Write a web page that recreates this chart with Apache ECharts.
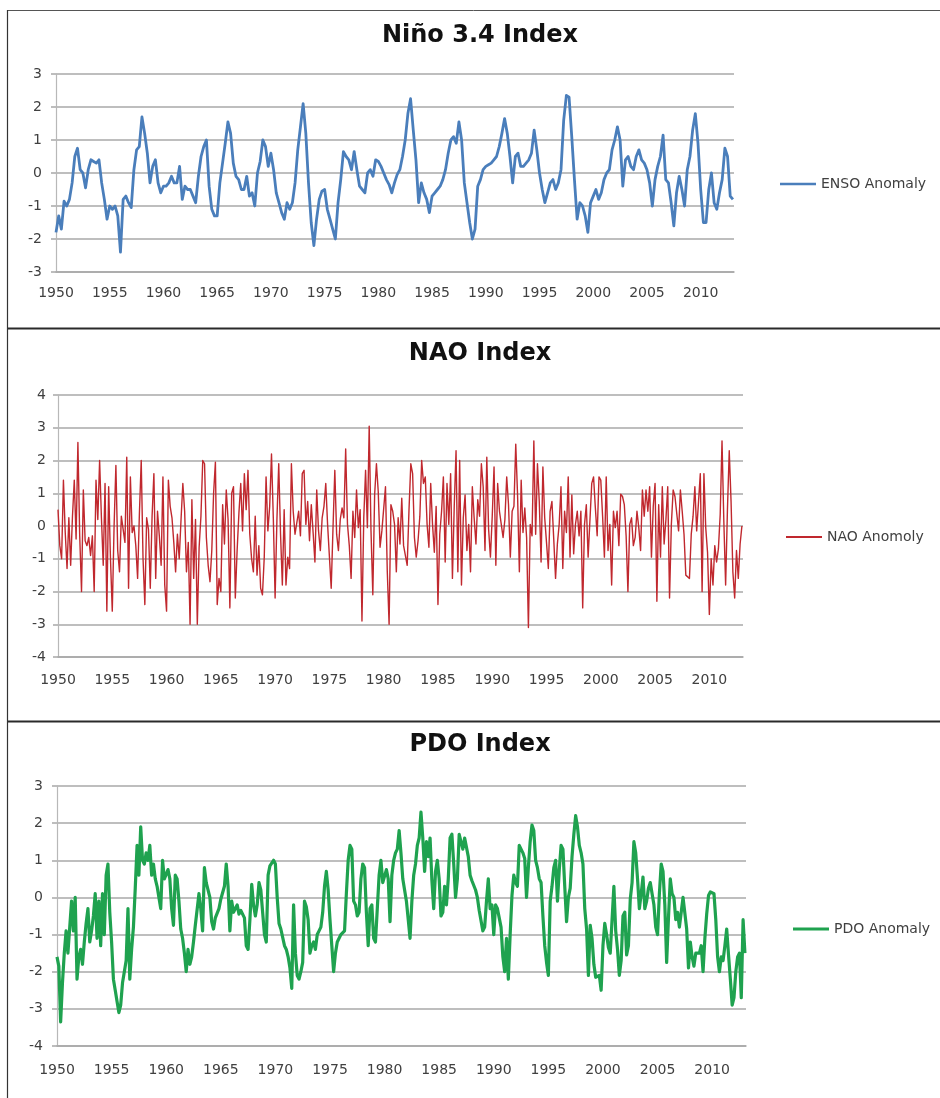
<!DOCTYPE html>
<html>
<head>
<meta charset="utf-8">
<script src="https://cdn.jsdelivr.net/npm/echarts@6/dist/echarts.min.js"></script>
<style>
html,body{margin:0;padding:0;background:#ffffff;}
#chart{width:940px;height:1098px;}
</style>
</head>
<body>
<div id="chart"></div>
<script>
// ---------- data ----------
const START_YEAR = 1950;
const yearLabels = [1950, 1955, 1960, 1965, 1970, 1975, 1980, 1985, 1990, 1995, 2000, 2005, 2010];

const titles = ['Niño 3.4 Index', 'NAO Index', 'PDO Index'];
const seriesNames = ['ENSO Anomaly', 'NAO Anomoly', 'PDO Anomaly'];

// Niño 3.4 anomaly, 4 samples per year from 1950.0
const ensoPerYear = 4;
const ensoValues = [
  -1.8, -1.3, -1.7, -0.85,
  -1.0, -0.8, -0.3, 0.5,
  0.75, 0.1, 0.0, -0.45,
  0.1, 0.4, 0.35, 0.3,
  0.4, -0.3, -0.8, -1.4,
  -1.0, -1.1, -1.0, -1.3,
  -2.4, -0.8, -0.7, -0.9,
  -1.05, 0.1, 0.7, 0.8,
  1.7, 1.2, 0.6, -0.3,
  0.2, 0.4, -0.3, -0.6,
  -0.4, -0.4, -0.3, -0.1,
  -0.3, -0.3, 0.2, -0.8,
  -0.4, -0.5, -0.5, -0.7,
  -0.9, -0.1, 0.5, 0.8,
  1.0, -0.4, -1.1, -1.3,
  -1.3, -0.3, 0.3, 0.9,
  1.55, 1.2, 0.3, -0.1,
  -0.2, -0.5, -0.5, -0.1,
  -0.7, -0.6, -1.0, 0.0,
  0.35, 1.0, 0.8, 0.2,
  0.6, 0.1, -0.6, -0.9,
  -1.2, -1.4, -0.9, -1.1,
  -0.9, -0.3, 0.7, 1.4,
  2.1, 1.2, -0.3, -1.5,
  -2.2, -1.4, -0.8, -0.55,
  -0.5, -1.1, -1.4, -1.7,
  -2.0, -0.9, -0.2, 0.65,
  0.5, 0.4, 0.1, 0.65,
  0.1, -0.4, -0.5, -0.6,
  0.0, 0.1, -0.1, 0.4,
  0.35, 0.2, 0.0, -0.2,
  -0.35, -0.6, -0.3, -0.05,
  0.1, 0.5, 1.0, 1.8,
  2.25, 1.3, 0.4, -0.9,
  -0.3, -0.6, -0.8, -1.2,
  -0.7, -0.6, -0.5, -0.4,
  -0.2, 0.1, 0.6, 1.0,
  1.1, 0.9, 1.55, 1.0,
  -0.3, -0.9, -1.5, -2.0,
  -1.7, -0.4, -0.2, 0.1,
  0.2, 0.25, 0.3, 0.4,
  0.5, 0.8, 1.2, 1.65,
  1.2, 0.5, -0.3, 0.5,
  0.6, 0.2, 0.2, 0.3,
  0.4, 0.6, 1.3, 0.7,
  0.0, -0.5, -0.9, -0.6,
  -0.3, -0.2, -0.5, -0.3,
  0.1, 1.6, 2.35, 2.3,
  1.1, -0.2, -1.4, -0.9,
  -1.0, -1.3, -1.8, -0.9,
  -0.7, -0.5, -0.8, -0.6,
  -0.2, 0.0, 0.1, 0.7,
  1.0, 1.4, 1.0, -0.4,
  0.4, 0.5, 0.2, 0.1,
  0.5, 0.7, 0.4, 0.3,
  0.1, -0.3, -1.0, -0.2,
  0.2, 0.5, 1.15, -0.2,
  -0.3, -0.9, -1.6, -0.6,
  -0.1, -0.5, -1.0, 0.1,
  0.5, 1.3, 1.8, 0.9,
  -0.5, -1.5, -1.5, -0.5,
  0.0, -0.9, -1.1, -0.6,
  -0.2, 0.75, 0.5, -0.7,
  -0.8
];

// NAO anomaly, 6 samples per year from 1950.0
const naoPerYear = 6;
const naoValues = [
  0.5, -0.6, -1.0, 1.4, -0.2, -1.3,
  0.25, -1.2, 0.3, 1.4, -0.4, 2.55,
  -0.3, -2.0, 1.1, -0.45, -0.6, -0.35,
  -0.9, -0.3, -2.0, 1.4, 0.2, 2.0,
  0.25, -1.2, 1.3, -2.6, 1.2, -1.0,
  -2.6, 0.0, 1.85, -0.75, -1.4, 0.3,
  0.25, -0.5, 2.1, -1.9, 1.5, -0.2,
  0.0, -0.6, -1.6, 0.4, 2.0, -1.0,
  -2.4, 0.25, -0.1, -1.9, 0.3, 1.6,
  -1.6, 0.45, -0.3, -1.2, 1.5, -1.8,
  -2.6, 1.4, 0.6, 0.25, -0.5, -1.4,
  -0.25, -1.0, 0.2, 1.3, 0.45, -1.4,
  -0.5, -3.0, 0.8, -1.6, 0.2, -3.0,
  -0.65, 0.3, 2.0, 1.9, -0.35, -1.2,
  -1.7, -0.75, 1.0, 1.95, -2.4, -1.6,
  -2.0, 0.65, -0.55, 1.1, 0.2, -2.5,
  1.0, 1.2, -2.2, -0.75, 0.4, 1.3,
  -0.15, 1.6, 0.5, 1.7, -0.25, -1.0,
  -1.4, 0.3, -1.5, -0.6, -1.9, -2.1,
  -0.95, 1.5, -0.15, 0.6, 2.2, 0.25,
  -2.2, 0.2, 1.9, -0.25, -1.8, 0.5,
  -1.8, -0.95, -1.3, 1.9, 0.45, -0.25,
  -0.25, 0.45, -0.3, 1.6, 1.7, 0.05,
  0.75, -0.45, 0.65, -0.2, -1.1, 1.1,
  -0.15, -0.75, 0.25, 0.6, 1.3, 0.05,
  0.05, -1.9, -0.05, 1.7, -0.25, -0.75,
  0.2, 0.55, 0.25, 2.35, 0.05, -0.6,
  -1.6, 0.45, -0.35, 1.1, -0.05, 0.5,
  -2.9, 0.25, 1.7, -0.05, 3.05, -0.15,
  -2.1, 0.95, 1.9, 1.05, -0.65, -0.15,
  -0.1, 1.2, -1.4, -3.0, 0.65, 0.45,
  0.05, -1.4, 0.25, -0.55, 0.85, -0.6,
  -0.65, -1.2, 0.5, 1.9, 1.6, -0.35,
  -0.95, -0.45, 0.3, 2.0, 1.3, 1.5,
  0.05, -0.65, 1.3, 0.05, -0.8, 0.6,
  -2.4, -0.25, 0.45, 1.5, -1.1, 1.3,
  0.05, 1.6, -1.6, 0.6, 2.3, -1.4,
  2.0, -1.8, 0.25, 0.95, -0.75, 0.05,
  -1.4, 1.2, 0.25, -0.55, 0.8, 0.3,
  1.9, 1.2, -0.75, 2.1, -0.1, -0.95,
  0.3, 1.8, -1.2, 1.3, 0.45, 0.05,
  -0.35, 0.2, 1.5, 0.65, -0.95, 0.45,
  0.6, 2.5, 0.95, -1.4, 1.4, -0.2,
  0.55, -0.35, -3.1, 0.05, -0.3, 2.6,
  -0.25, 1.9, 0.75, -1.1, 1.8, 0.25,
  -0.5, -1.3, 0.45, 0.75, -0.4, -1.6,
  -0.55, 0.05, 1.2, -1.3, 0.45, -0.2,
  1.5, -0.95, 0.95, -0.85, 0.05, 0.45,
  -0.3, 0.45, -2.5, 0.05, 0.65, -0.95,
  -0.95, 1.3, 1.5, 0.55, -0.3, 1.5,
  1.4, 0.3, -0.95, 1.5, -0.75, 0.05,
  -1.8, 0.45, -0.05, 0.45, -0.6, 0.97,
  0.9, 0.65, -0.3, -2.0, 0.05, 0.25,
  -0.6, -0.35, 0.45, -0.05, -0.75, 1.1,
  0.3, 1.1, 0.45, 1.2, -0.95, 0.6,
  1.3, -2.3, 0.65, -0.95, 1.2, -0.55,
  0.2, 1.2, -2.2, 0.05, 1.1, 0.9,
  0.9, -0.15, 1.1, 0.45, -0.25, -1.5,
  -1.5, -1.6, -0.25, 0.3, 1.2, -0.15,
  -0.15, 1.6, -2.0, 1.6, -0.05, -0.8,
  -2.7, -1.0, -1.8, -0.6, -1.1, -0.7,
  0.35, 2.6, 0.15, -1.8, 0.5, 2.3,
  0.75, -1.4, -2.2, -0.75, -1.6, -0.55,
  0.0
];

// PDO anomaly, 6 samples per year from 1950.0
const pdoPerYear = 6;
const pdoValues = [
  -1.6, -1.85, -3.35, -2.3, -1.5, -0.9,
  -1.5, -0.8, -0.1, -0.9, 0.0, -2.2,
  -1.6, -1.4, -1.8, -1.2, -0.7, -0.3,
  -1.2, -0.9, -0.5, 0.1, -1.1, -0.1,
  -1.3, 0.1, -1.0, 0.6, 0.9, -0.4,
  -1.2, -2.2, -2.5, -2.8, -3.1, -2.9,
  -2.3, -2.0, -1.7, -0.3, -2.2, -1.4,
  -0.8, 0.25, 1.4, 0.6, 1.9, 1.0,
  0.9, 1.2, 1.0, 1.4, 0.6, 0.9,
  0.5, 0.3, 0.0, -0.3, 1.0, 0.5,
  0.5, 0.75, 0.5, -0.3, -0.75, 0.6,
  0.5, -0.1, -0.85, -1.1, -1.5, -2.0,
  -1.4, -1.8, -1.6, -1.2, -0.75, -0.8,
  0.1, -0.3, -0.9, 0.8, 0.4, 0.4,
  0.0, -0.65, -0.85, -0.55, -0.6, -0.3,
  -0.05, 0.0, 0.3, 0.9, 0.3, -0.9,
  -0.1, -0.4, -0.3, -0.2, -0.45, -0.35,
  -0.3, -0.55, -1.3, -1.4, -0.6, 0.35,
  -0.2, -0.5, -0.2, 0.4, 0.2, -0.4,
  -1.0, -1.2, 0.6, 0.85, 0.9, 1.0,
  0.9, 0.0, -0.7, -0.85, -0.9, -1.3,
  -1.4, -1.6, -1.9, -2.45, -0.2, -1.5,
  -2.1, -2.2, -2.0, -1.75, -0.1, -0.25,
  -0.6, -1.5, -1.3, -1.2, -1.4, -1.0,
  -0.9, -0.8, -0.4, 0.3, 0.7, 0.2,
  -0.6, -1.3, -2.0, -1.5, -1.2, -1.2,
  -1.0, -1.0, -0.9, 0.1, 1.0, 1.4,
  1.3, -0.1, -0.2, -0.5, -0.4, 0.5,
  0.9, 0.8, -0.4, -1.3, -0.3, -0.2,
  -1.1, -1.2, -0.3, 0.6, 1.0, 0.4,
  0.4, 0.75, 0.5, -0.65, 0.6, 1.0,
  1.2, 1.3, 1.8, 1.2, 0.5, 0.5,
  -0.1, -0.6, -1.1, -0.1, 0.6, 0.9,
  1.4, 1.6, 2.3, 1.6, 0.7, 1.5,
  1.1, 1.6, 0.45, -0.3, 0.7, 1.0,
  0.5, -0.5, -0.4, 0.3, -0.2, 0.5,
  1.6, 1.7, 0.9, 0.0, 0.5, 1.7,
  1.7, 1.3, 1.6, 1.6, 1.1, 0.6,
  0.45, 0.5, 0.2, 0.0, -0.35, -0.4,
  -0.9, -0.8, -0.1, 0.5, -0.3, -0.2,
  -1.0, -0.2, -0.3, -0.3, -0.8, -1.6,
  -2.0, -1.1, -2.2, -1.0, 0.05, 0.6,
  0.4, 0.3, 1.4, 1.4, 1.2, 1.05,
  0.0, 0.8, 1.5, 1.95, 1.8, 1.0,
  0.8, 0.5, 0.4, -0.5, -1.3, -1.75,
  -2.1, -0.1, 0.3, 0.8, 1.0, -0.1,
  0.75, 1.4, 1.3, 0.3, -0.65, 0.0,
  0.25, 1.1, 1.7, 2.2, 1.9, 1.4,
  1.2, 0.9, -0.3, -0.85, -2.1, -0.75,
  -1.1, -1.8, -2.15, -2.2, -2.1, -2.5,
  -1.3, -0.7, -1.0, -1.35, -1.5, -0.6,
  0.3, -0.9, -1.4, -2.1, -1.7, -0.5,
  -0.4, -1.55, -1.3, -0.05, 0.4, 1.5,
  1.2, 0.5, -0.3, 0.1, 0.55, -0.3,
  -0.1, 0.25, 0.4, 0.1, -0.2, -0.8,
  -1.0, 0.1, 0.9, 0.7, -0.2, -1.75,
  -0.55, 0.5, 0.1, 0.0, -0.6, -0.4,
  -0.8, -0.4, 0.0, -0.05, -0.85, -1.9,
  -1.2, -1.6, -1.85, -1.5, -1.5, -1.5,
  -1.3, -2.0, -1.1, -0.45, 0.05, 0.15,
  0.2, 0.1, -0.6, -1.6, -2.0, -1.6,
  -1.7, -1.3, -0.85, -1.55, -2.2, -2.9,
  -2.7, -2.0, -1.6, -1.5, -2.7, -0.6,
  -1.5
];

// ---------- build ----------
function toPairs(values, perYear) {
  return values.map((v, i) => [START_YEAR + i / perYear, v]);
}

const FONT = 'DejaVu Sans';
const GRID_COLOR = '#a8a8a8';
const LABEL_COLOR = '#404040';

const panels = [
  { grid: { left: 56, top: 74, width: 678, height: 198 }, yMin: -3, yMax: 3, xMax: 2013.1,
    titleTop: 22, legendLeft: 780, legendTop: 177, color: '#4a7ebb', width: 2.8, iconH: 2.5,
    data: toPairs(ensoValues, ensoPerYear), xMargin: 14, yMargin: 14 },
  { grid: { left: 58, top: 395, width: 685, height: 262 }, yMin: -4, yMax: 4, xMax: 2013.1,
    titleTop: 340, legendLeft: 786, legendTop: 530, color: '#c0282e', width: 1.4, iconH: 2,
    data: toPairs(naoValues, naoPerYear), xMargin: 16, yMargin: 12 },
  { grid: { left: 57, top: 786, width: 689, height: 260 }, yMin: -4, yMax: 3, xMax: 2013.1,
    titleTop: 731, legendLeft: 793, legendTop: 922, color: '#1fa24f', width: 3.2, iconH: 3,
    data: toPairs(pdoValues, pdoPerYear), xMargin: 17, yMargin: 14 }
];

const option = {
  animation: false,
  backgroundColor: '#ffffff',
  title: panels.map((p, i) => ({
    text: titles[i], left: 480, top: p.titleTop, textAlign: 'center', padding: 0,
    textStyle: { fontFamily: FONT, fontWeight: 'bold', fontSize: 24, lineHeight: 28, color: '#111111' }
  })),
  legend: panels.map((p, i) => ({
    data: [{ name: seriesNames[i], icon: 'rect' }], left: p.legendLeft, top: p.legendTop, padding: 0,
    itemWidth: 36, itemHeight: p.iconH,
    textStyle: { fontFamily: FONT, fontSize: 14, color: LABEL_COLOR }
  })),
  grid: panels.map(p => Object.assign({ containLabel: false }, p.grid)),
  xAxis: panels.map((p, i) => ({
    type: 'value', gridIndex: i, min: START_YEAR, max: p.xMax, interval: 5,
    splitLine: { show: false },
    axisTick: { show: false },
    axisLine: { onZero: false, lineStyle: { color: GRID_COLOR, width: 1.5 } },
    axisLabel: {
      margin: p.xMargin, fontFamily: FONT, fontSize: 14, color: LABEL_COLOR,
      showMaxLabel: true,
      formatter: v => {
        const r = Math.round(v);
        return (Math.abs(v - r) < 1e-6 && yearLabels.includes(r)) ? String(r) : '';
      }
    }
  })),
  yAxis: panels.map((p, i) => ({
    type: 'value', gridIndex: i, min: p.yMin, max: p.yMax, interval: 1,
    axisLine: { show: true, lineStyle: { color: '#b8b8b8', width: 1.2 } },
    axisTick: { show: true, length: 5, lineStyle: { color: GRID_COLOR, width: 1.5 } },
    splitLine: { show: true, lineStyle: { color: GRID_COLOR, width: 1.5 } },
    axisLabel: { margin: p.yMargin, fontFamily: FONT, fontSize: 14, color: LABEL_COLOR }
  })),
  series: panels.map((p, i) => ({
    name: seriesNames[i], type: 'line', xAxisIndex: i, yAxisIndex: i,
    data: p.data, symbol: 'none', showSymbol: false, smooth: false,
    lineStyle: { color: p.color, width: p.width, join: 'round' },
    itemStyle: { color: p.color },
    emphasis: { disabled: true }
  })),
  graphic: [
    { type: 'line', shape: { x1: 7, y1: 10.5, x2: 940, y2: 10.5 }, style: { stroke: '#555555', lineWidth: 1 } },
    { type: 'line', shape: { x1: 7, y1: 328.5, x2: 940, y2: 328.5 }, style: { stroke: '#2a2a2a', lineWidth: 2 } },
    { type: 'line', shape: { x1: 7, y1: 721.5, x2: 940, y2: 721.5 }, style: { stroke: '#2a2a2a', lineWidth: 2 } },
    { type: 'line', shape: { x1: 7.5, y1: 10, x2: 7.5, y2: 1098 }, style: { stroke: '#333333', lineWidth: 1.2 } }
  ]
};

const chart = echarts.init(document.getElementById('chart'), null, { renderer: 'canvas' });
chart.setOption(option);
</script>
</body>
</html>
